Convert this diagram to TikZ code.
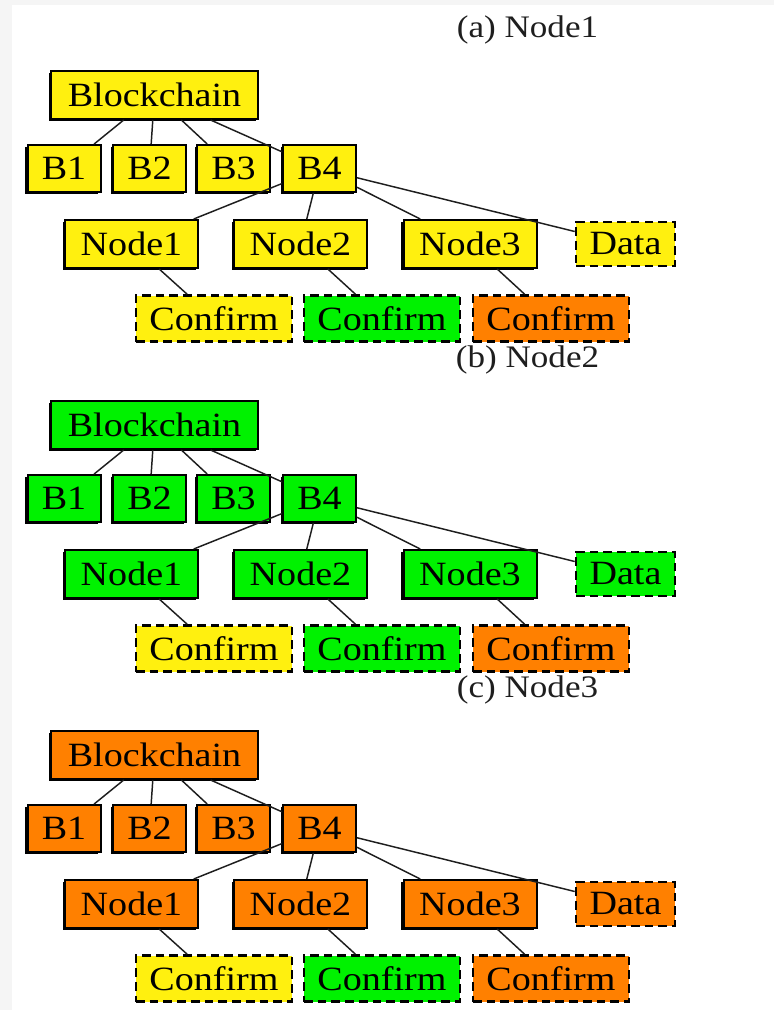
\documentclass[tikz,border=0pt]{standalone}
\usepackage{fontspec}
\setmainfont{Liberation Serif}[FakeStretch=1.12]
\usetikzlibrary{shadows}
\definecolor{cy}{RGB}{255,240,15}
\definecolor{cg}{RGB}{0,242,0}
\definecolor{co}{RGB}{255,128,0}
\definecolor{bgg}{RGB}{245,245,245}
\definecolor{ink}{RGB}{30,30,30}
\tikzset{
  box/.style={draw=black, line width=1.5pt, rectangle, inner sep=0pt,
    font=\fontsize{25.5}{30}\selectfont,
    drop shadow={shadow xshift=-1.7pt, shadow yshift=-1.7pt, opacity=1, fill=black}},
  dbox/.style={draw=black, line width=1.9pt, rectangle, inner sep=0pt,
    dash pattern=on 6.5pt off 3.8pt, font=\fontsize{25.5}{30}\selectfont},
  chainbox/.style={box, minimum width=155pt, minimum height=36pt},
  blockbox/.style={box, minimum width=54.75pt, minimum height=35.25pt},
  peerbox/.style={box, minimum width=99.75pt, minimum height=36pt},
  databox/.style={dbox, minimum width=74.25pt, minimum height=33pt},
  confbox/.style={dbox, minimum width=117pt, minimum height=34.5pt},
  edge/.style={draw=ink, line width=1.1pt},
  title/.style={font=\fontsize{23.5}{27}\selectfont, text=ink, inner sep=0pt}
}
\begin{document}
\begin{tikzpicture}[x=0.75pt,y=0.75pt]
\useasboundingbox (0,0) rectangle (774,-1010);
\fill[bgg] (0,0) rectangle (774,-1010);
\fill[white] (12,-5) rectangle (774,-1010);
\foreach \p/\oy/\col/\lab in {a/0/cy/Node1, b/330/cg/Node2, c/660/co/Node3} {
  \begin{scope}[shift={(0,-\oy)}]
    \node[title] (t\p) at (527.5,-30) {(\p) \lab};
    \node[chainbox, fill=\col] (bc\p) at (154.5,-95) {Blockchain};
    \node[blockbox, fill=\col] (bA\p) at (64,-168.5) {B1};
    \node[blockbox, fill=\col] (bB\p) at (149.5,-168.5) {B2};
    \node[blockbox, fill=\col] (bC\p) at (233.5,-168.5) {B3};
    \node[blockbox, fill=\col] (bD\p) at (319.5,-168.5) {B4};
    \node[peerbox, fill=\col] (nA\p) at (131.5,-244) {Node1};
    \node[peerbox, fill=\col] (nB\p) at (300.5,-244) {Node2};
    \node[peerbox, fill=\col] (nC\p) at (470,-244) {Node3};
    \node[databox, fill=\col] (d\p) at (625.5,-244) {Data};
    \node[confbox, fill=cy] (cA\p) at (214,-318.5) {Confirm};
    \node[confbox, fill=cg] (cB\p) at (382,-318.5) {Confirm};
    \node[confbox, fill=co] (cC\p) at (551,-318.5) {Confirm};
    \draw[edge] (bc\p) -- (bA\p);
    \draw[edge] (bc\p) -- (bB\p);
    \draw[edge] (bc\p) -- (bC\p);
    \draw[edge] (bc\p) -- (bD\p);
    \draw[edge] (bD\p) -- (nA\p);
    \draw[edge] (bD\p) -- (nB\p);
    \draw[edge] (bD\p) -- (nC\p);
    \draw[edge] (bD\p) -- (d\p);
    \draw[edge] (nA\p) -- (cA\p);
    \draw[edge] (nB\p) -- (cB\p);
    \draw[edge] (nC\p) -- (cC\p);
  \end{scope}
}
\end{tikzpicture}
\end{document}
